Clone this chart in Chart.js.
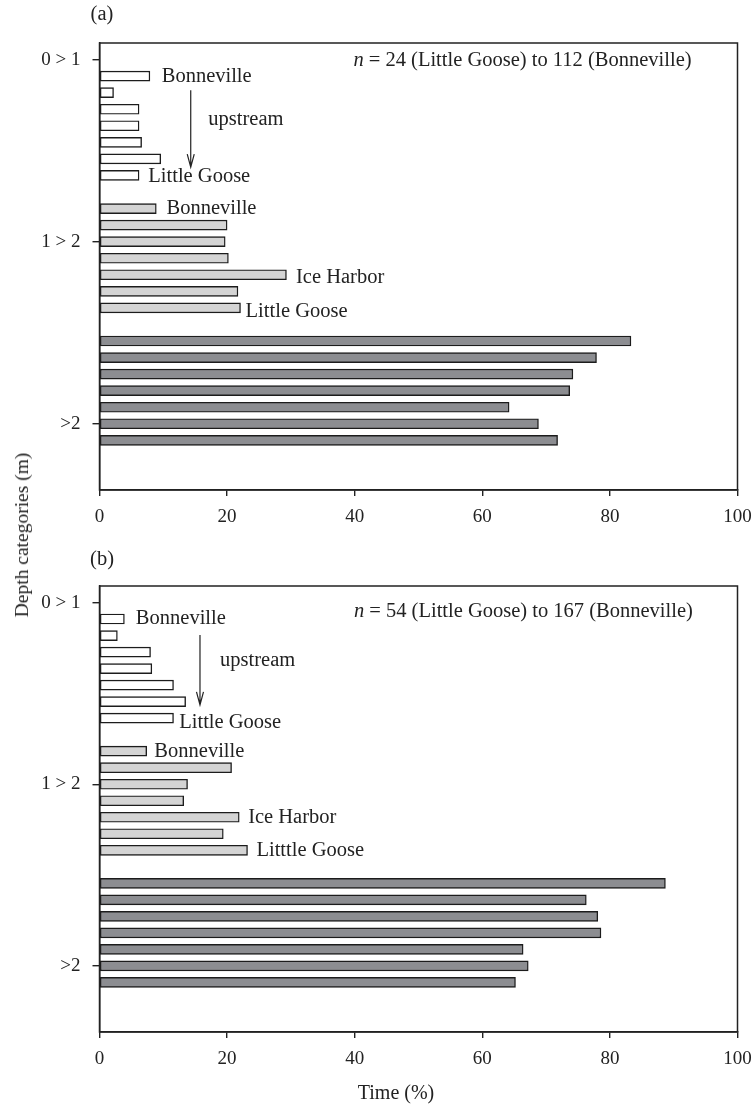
<!DOCTYPE html>
<html>
<head>
<meta charset="utf-8">
<script src="https://cdn.jsdelivr.net/npm/chart.js@4.4.1/dist/chart.umd.min.js"></script>
<style>
  body { margin: 0; background: #fff; }
  #wrap { position: relative; width: 752px; height: 1108px; }
  canvas { position: absolute; left: 0; }
  #ytitle {
    position: absolute; left: 22px; top: 535px;
    transform: translate(-50%, -50%) rotate(-90deg);
    font: 19.5px 'Liberation Serif'; color: #222; white-space: nowrap;
  }
</style>
</head>
<body>
<div id="wrap">
  <canvas id="panelA" width="752" height="545" style="top:0"></canvas>
  <canvas id="panelB" width="752" height="563" style="top:545px"></canvas>
  <div id="ytitle">Depth categories (m)</div>
</div>
<script>
// dams, downstream to upstream
const sites = ["Bonneville", "The Dalles", "John Day", "McNary", "Ice Harbor", "Lower Monumental", "Little Goose"];
const depthLabels = ["0 > 1", "1 > 2", ">2"];
const depthTickAt = [-1, 10, 21];
const timeTicks = [0, 20, 40, 60, 80, 100];

// (a) time (%) per depth category
const aShallow = [7.9, 2.2, 6.2, 6.2, 6.6, 9.6, 6.2];
const aMid     = [8.9, 20.0, 19.7, 20.2, 29.3, 21.7, 22.1];
const aDeep    = [83.3, 77.9, 74.2, 73.7, 64.2, 68.8, 71.8];

// (b)
const bShallow = [3.9, 2.8, 8.0, 8.2, 11.6, 13.5, 11.6];
const bMid     = [7.4, 20.7, 13.8, 13.2, 21.9, 19.4, 23.2];
const bDeep    = [88.7, 76.3, 78.1, 78.6, 66.4, 67.2, 65.2];

const SERIF = "'Liberation Serif', 'Times New Roman', serif";
const INK = "#222";

const notesPlugin = {
  id: "notes",
  afterDraw(chart, args, opts) {
    const { ctx, chartArea: a, scales: { x, y } } = chart;
    ctx.save();
    // box round the plot
    ctx.strokeStyle = INK;
    ctx.lineWidth = 1.5;
    ctx.strokeRect(a.left, a.top, a.right - a.left, a.bottom - a.top);

    ctx.fillStyle = INK;
    ctx.textBaseline = "middle";
    ctx.textAlign = "left";
    ctx.font = "20.5px " + SERIF;
    opts.labels.forEach(l => {
      ctx.fillText(l.text, x.getPixelForValue(l.x), y.getPixelForValue(l.y));
    });

    // n = ... label, right aligned
    const rest = opts.count.text;
    ctx.font = "20.5px " + SERIF;
    const wRest = ctx.measureText(rest).width;
    ctx.font = "italic 20.5px " + SERIF;
    const wN = ctx.measureText("n").width;
    const rx = x.getPixelForValue(opts.count.x);
    const ry = y.getPixelForValue(opts.count.y);
    ctx.fillText("n", rx - wRest - wN, ry);
    ctx.font = "20.5px " + SERIF;
    ctx.fillText(rest, rx - wRest, ry);

    // upstream arrow
    const ax = x.getPixelForValue(opts.arrow.x);
    const y1 = y.getPixelForValue(opts.arrow.from);
    const y2 = y.getPixelForValue(opts.arrow.to);
    ctx.lineWidth = 1.2;
    ctx.beginPath();
    ctx.moveTo(ax, y1);
    ctx.lineTo(ax, y2);
    ctx.moveTo(ax - 3.5, y2 - 13);
    ctx.lineTo(ax, y2);
    ctx.lineTo(ax + 3.5, y2 - 13);
    ctx.stroke();

    // panel letter and x title
    ctx.textAlign = "center";
    ctx.font = "20.5px " + SERIF;
    ctx.fillText(opts.letter, 102, 15);
    if (opts.xTitle) {
      ctx.font = "20px " + SERIF;
      ctx.fillText(opts.xTitle, 396, chart.height - 14);
    }
    ctx.restore();
  }
};

function buildPanel(id, shallow, mid, deep, notes, padTop, xAxisHeight) {
  const fills = ["#ffffff", "#d4d4d4", "#8c8d91"];
  const datasets = [shallow, mid, deep].map((vals, g) => ({
    label: depthLabels[g],
    data: vals.map((v, i) => ({ x: v, y: g * 8 + i })),
    backgroundColor: fills[g],
    borderColor: "#1c1c1c",
    borderWidth: 1.4,
    borderSkipped: false,
    barThickness: 10,
    grouped: false
  }));

  return new Chart(document.getElementById(id), {
    type: "bar",
    data: { datasets },
    options: {
      indexAxis: "y",
      responsive: false,
      animation: false,
      layout: { padding: { top: padTop, right: 14.5, left: 0, bottom: 0 } },
      plugins: {
        legend: { display: false },
        tooltip: { enabled: false },
        notes: notes
      },
      scales: {
        x: {
          type: "linear",
          min: 0,
          max: 100,
          afterBuildTicks: s => { s.ticks = timeTicks.map(v => ({ value: v })); },
          afterFit: s => {
            s.height = xAxisHeight;
            s.paddingLeft = 0;
            s.paddingRight = 0;
          },
          grid: { drawOnChartArea: false, tickLength: 6, color: INK, lineWidth: 1.4 },
          border: { color: INK, width: 1.5 },
          ticks: { font: { family: SERIF, size: 19 }, color: INK, padding: 10 }
        },
        y: {
          type: "linear",
          reverse: true,
          offset: false,
          min: -2,
          max: 25,
          afterBuildTicks: s => { s.ticks = depthTickAt.map(v => ({ value: v })); },
          afterFit: s => { s.width = 99.5; },
          grid: { offset: false, drawOnChartArea: false, tickLength: 7, color: INK, lineWidth: 1.4 },
          border: { color: INK, width: 1.5 },
          ticks: {
            font: { family: SERIF, size: 19 },
            color: INK,
            padding: 12,
            callback: (v, i) => depthLabels[i]
          }
        }
      }
    },
    plugins: [notesPlugin]
  });
}

buildPanel("panelA", aShallow, aMid, aDeep, {
  letter: "(a)",
  labels: [
    { text: "Bonneville", x: 9.75, y: 0 },
    { text: "upstream", x: 17.05, y: 2.6 },
    { text: "Little Goose", x: 7.65, y: 6.1 },
    { text: "Bonneville", x: 10.5, y: 8 },
    { text: "Ice Harbor", x: 30.8, y: 12.2 },
    { text: "Little Goose", x: 22.9, y: 14.2 }
  ],
  arrow: { x: 14.3, from: 0.85, to: 5.5 },
  count: { text: " = 24 (Little Goose) to 112 (Bonneville)", x: 92.8, y: -0.93 }
}, 43, 55);

buildPanel("panelB", bShallow, bMid, bDeep, {
  letter: "(b)",
  xTitle: "Time (%)",
  labels: [
    { text: "Bonneville", x: 5.7, y: 0 },
    { text: "upstream", x: 18.9, y: 2.5 },
    { text: "Little Goose", x: 12.5, y: 6.25 },
    { text: "Bonneville", x: 8.6, y: 8 },
    { text: "Ice Harbor", x: 23.3, y: 12 },
    { text: "Litttle Goose", x: 24.6, y: 14 }
  ],
  arrow: { x: 15.75, from: 0.97, to: 5.2 },
  count: { text: " = 54 (Little Goose) to 167 (Bonneville)", x: 93.0, y: -0.46 }
}, 41, 76);
</script>
</body>
</html>
